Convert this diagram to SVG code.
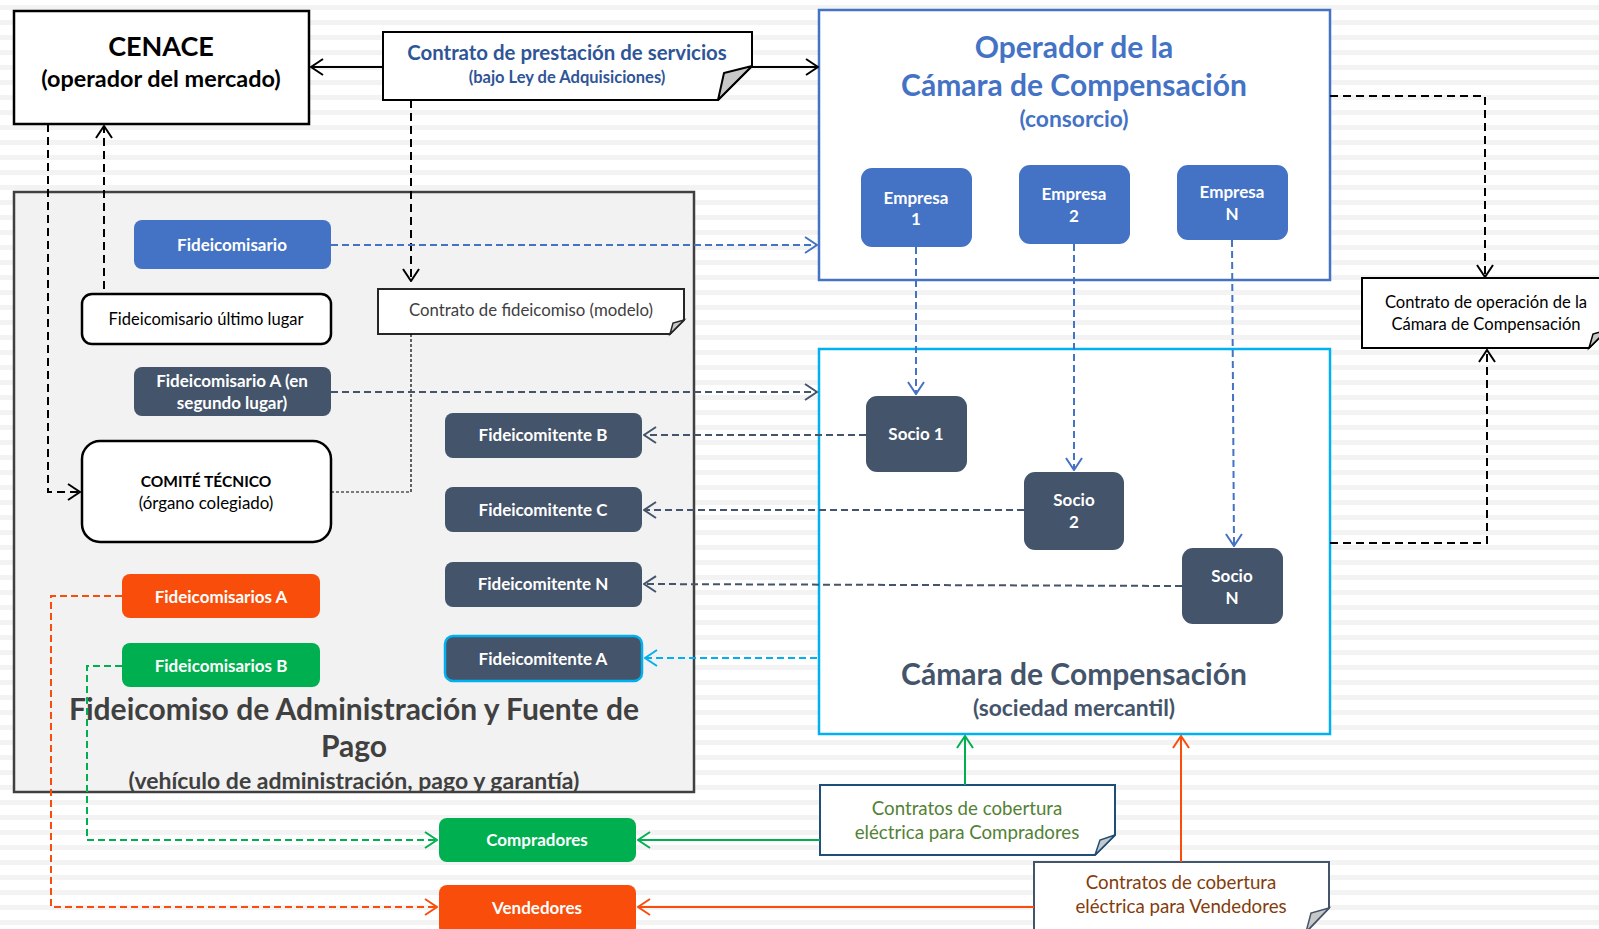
<svg xmlns="http://www.w3.org/2000/svg" width="1599" height="929" viewBox="0 0 1599 929">
<defs>
<pattern id="stripes" width="16" height="15" patternUnits="userSpaceOnUse">
<rect width="16" height="15" fill="#ffffff"/>
<rect y="5" width="16" height="5" fill="#f3f3f3"/>
</pattern>
<marker id="aK" markerWidth="14" markerHeight="18" refX="13" refY="9" orient="auto" markerUnits="userSpaceOnUse"><path d="M1,1 L13,9 L1,17" fill="none" stroke="#000" stroke-width="2"/></marker>
<marker id="aB" markerWidth="14" markerHeight="18" refX="13" refY="9" orient="auto" markerUnits="userSpaceOnUse"><path d="M1,1 L13,9 L1,17" fill="none" stroke="#4472c4" stroke-width="2"/></marker>
<marker id="aS" markerWidth="14" markerHeight="18" refX="13" refY="9" orient="auto" markerUnits="userSpaceOnUse"><path d="M1,1 L13,9 L1,17" fill="none" stroke="#44546a" stroke-width="2"/></marker>
<marker id="aC" markerWidth="14" markerHeight="18" refX="13" refY="9" orient="auto" markerUnits="userSpaceOnUse"><path d="M1,1 L13,9 L1,17" fill="none" stroke="#00b0f0" stroke-width="2"/></marker>
<marker id="aG" markerWidth="14" markerHeight="18" refX="13" refY="9" orient="auto" markerUnits="userSpaceOnUse"><path d="M1,1 L13,9 L1,17" fill="none" stroke="#00b050" stroke-width="2"/></marker>
<marker id="aO" markerWidth="14" markerHeight="18" refX="13" refY="9" orient="auto" markerUnits="userSpaceOnUse"><path d="M1,1 L13,9 L1,17" fill="none" stroke="#f94e0b" stroke-width="2"/></marker>
</defs>
<style>
text{font-family:Lato,"Liberation Sans",sans-serif;text-anchor:middle}
.b{font-weight:bold}
.w{fill:#ffffff;font-weight:bold;font-size:17px}
.blue{fill:#4472c4}
.slate{fill:#44546a}
.orange{fill:#f94e0b}
.green{fill:#00b050}
.fold{fill:#c8c8c8}
.c{fill:none;stroke-width:2}
.dk{stroke:#000;stroke-dasharray:8 5}
.db{stroke:#4472c4;stroke-dasharray:7 4}
.ds{stroke:#44546a;stroke-dasharray:7 4}
.dc{stroke:#00b0f0;stroke-dasharray:7 4}
.dg{stroke:#00b050;stroke-dasharray:7 4}
.do{stroke:#f94e0b;stroke-dasharray:7 4}
</style>
<rect width="1599" height="929" fill="url(#stripes)"/>

<g id="fideicomiso">
<rect x="14" y="192" width="680" height="600" fill="#f2f2f2" stroke="#404040" stroke-width="2.5"/>
<text x="354" y="720" class="b" font-size="30" fill="#404040">Fideicomiso de Administración y Fuente de</text>
<text x="354" y="757" class="b" font-size="30" fill="#404040">Pago</text>
<text x="354" y="789" class="b" font-size="23" fill="#404040">(vehículo de administración, pago y garantía)</text>
</g>

<g id="cenace">
<rect x="14" y="11" width="295" height="113" fill="#fff" stroke="#000" stroke-width="2.5"/>
<text x="161" y="56" class="b" font-size="27" fill="#000">CENACE</text>
<text x="161" y="87" class="b" font-size="23.4" fill="#000">(operador del mercado)</text>
</g>

<g id="contrato-servicios">
<path d="M383,32 H752 V66 L718,100 H383 Z" fill="#fff" stroke="#000" stroke-width="2"/>
<path d="M752,66 L724,73 L718,100 Z" class="fold" stroke="#000" stroke-width="2" stroke-linejoin="round"/>
<text x="567" y="60" class="b" font-size="20.4" fill="#2f5597">Contrato de prestación de servicios</text>
<text x="567" y="83" class="b" font-size="16.5" fill="#2f5597">(bajo Ley de Adquisiciones)</text>
</g>

<g id="operador">
<rect x="819" y="10" width="511" height="270" fill="#fff" stroke="#4472c4" stroke-width="2.5"/>
<text x="1074" y="58" class="b" font-size="30" fill="#4472c4">Operador de la</text>
<text x="1074" y="96" class="b" font-size="30" fill="#4472c4">Cámara de Compensación</text>
<text x="1074" y="127" class="b" font-size="22.8" fill="#4472c4">(consorcio)</text>
</g>

<g id="empresa1"><rect x="861" y="168" width="111" height="79" rx="11" class="blue"/><text x="916" y="204" class="w">Empresa</text><text x="916" y="225" class="w">1</text></g>
<g id="empresa2"><rect x="1019" y="165" width="111" height="79" rx="11" class="blue"/><text x="1074" y="200" class="w">Empresa</text><text x="1074" y="222" class="w">2</text></g>
<g id="empresaN"><rect x="1177" y="165" width="111" height="75" rx="11" class="blue"/><text x="1232" y="198" class="w">Empresa</text><text x="1232" y="220" class="w">N</text></g>

<g id="camara">
<rect x="819" y="349" width="511" height="385" fill="#fff" stroke="#00b0f0" stroke-width="2.5"/>
<text x="1074" y="685" class="b" font-size="30" fill="#44546a">Cámara de Compensación</text>
<text x="1074" y="716" class="b" font-size="22.8" fill="#44546a">(sociedad mercantil)</text>
</g>

<g id="socio1"><rect x="866" y="396" width="101" height="76" rx="11" class="slate"/><text x="916" y="440" class="w">Socio 1</text></g>
<g id="socio2"><rect x="1024" y="472" width="100" height="78" rx="11" class="slate"/><text x="1074" y="506" class="w">Socio</text><text x="1074" y="528" class="w">2</text></g>
<g id="socioN"><rect x="1182" y="548" width="101" height="76" rx="11" class="slate"/><text x="1232" y="582" class="w">Socio</text><text x="1232" y="604" class="w">N</text></g>

<g id="contrato-operacion">
<path d="M1362,278 H1607 V330 L1589,348 H1362 Z" fill="#fff" stroke="#000" stroke-width="2"/>
<path d="M1607,330 L1593,334 L1589,348 Z" class="fold" stroke="#000" stroke-width="1.5"/>
<text x="1486" y="308" font-size="16.6" fill="#000">Contrato de operación de la</text>
<text x="1486" y="330" font-size="16.6" fill="#000">Cámara de Compensación</text>
</g>

<g id="fideicomisario"><rect x="134" y="220" width="197" height="49" rx="8" class="blue"/><text x="232" y="251" class="w">Fideicomisario</text></g>
<g id="fideicomisario-ultimo"><rect x="82" y="294" width="249" height="50" rx="10" fill="#fff" stroke="#000" stroke-width="2.5"/><text x="206" y="325" font-size="16.5" fill="#000">Fideicomisario último lugar</text></g>

<g id="contrato-fideicomiso">
<path d="M378,289 H684 V320 L670,334 H378 Z" fill="#fff" stroke="#262626" stroke-width="2"/>
<path d="M684,320 L673,323 L670,334 Z" class="fold" stroke="#262626" stroke-width="1.5"/>
<text x="531" y="316" font-size="16.8" fill="#404040">Contrato de fideicomiso (modelo)</text>
</g>

<g id="fideicomisarioA2"><rect x="134" y="367" width="197" height="49" rx="8" class="slate"/><text x="232" y="387" class="w">Fideicomisario A (en</text><text x="232" y="409" class="w">segundo lugar)</text></g>

<g id="comite"><rect x="82" y="441" width="249" height="101" rx="18" fill="#fff" stroke="#000" stroke-width="2.5"/><text x="206" y="487" class="b" font-size="15.5" fill="#000">COMITÉ TÉCNICO</text><text x="206" y="509" font-size="16.9" fill="#000">(órgano colegiado)</text></g>

<g id="fideicomitenteB"><rect x="445" y="413" width="197" height="45" rx="8" class="slate"/><text x="543" y="441" class="w">Fideicomitente B</text></g>
<g id="fideicomitenteC"><rect x="445" y="487" width="197" height="45" rx="8" class="slate"/><text x="543" y="516" class="w">Fideicomitente C</text></g>
<g id="fideicomitenteN"><rect x="445" y="562" width="197" height="45" rx="8" class="slate"/><text x="543" y="590" class="w">Fideicomitente N</text></g>
<g id="fideicomitenteA"><rect x="445" y="636" width="197" height="45" rx="8" class="slate" stroke="#00b0f0" stroke-width="2.5"/><text x="543" y="665" class="w">Fideicomitente A</text></g>

<g id="fideicomisariosA"><rect x="122" y="574" width="198" height="44" rx="8" class="orange"/><text x="221" y="603" class="w">Fideicomisarios A</text></g>
<g id="fideicomisariosB"><rect x="122" y="643" width="198" height="44" rx="8" class="green"/><text x="221" y="672" class="w">Fideicomisarios B</text></g>

<g id="compradores"><rect x="439" y="818" width="197" height="44" rx="8" class="green"/><text x="537" y="846" class="w">Compradores</text></g>
<g id="vendedores"><rect x="439" y="885" width="197" height="50" rx="8" class="orange"/><text x="537" y="914" class="w">Vendedores</text></g>

<g id="contratos-compradores">
<path d="M820,785 H1115 V835 L1095,855 H820 Z" fill="#fff" stroke="#1f4e79" stroke-width="2"/>
<path d="M1115,835 L1100,840 L1095,855 Z" class="fold" stroke="#1f4e79" stroke-width="1.5"/>
<text x="967" y="815" font-size="18.7" fill="#538135">Contratos de cobertura</text>
<text x="967" y="839" font-size="18.7" fill="#538135">eléctrica para Compradores</text>
</g>

<g id="contratos-vendedores">
<path d="M1034,862 H1329 V908 L1306,932 H1034 Z" fill="#fff" stroke="#44546a" stroke-width="2"/>
<path d="M1329,908 L1311,913 L1306,932 Z" class="fold" stroke="#44546a" stroke-width="1.5"/>
<text x="1181" y="889" font-size="18.7" fill="#843c0c">Contratos de cobertura</text>
<text x="1181" y="913" font-size="18.7" fill="#843c0c">eléctrica para Vendedores</text>
</g>

<g id="connectors">
<path d="M383,67 H311" class="c" stroke="#000" marker-end="url(#aK)"/>
<path d="M752,67 H818" class="c" stroke="#000" marker-end="url(#aK)"/>
<path d="M411,100 V281" class="c dk" marker-end="url(#aK)"/>
<path d="M48,124 V492 H80" class="c dk" marker-end="url(#aK)"/>
<path d="M104,289 V126" class="c dk" marker-end="url(#aK)"/>
<path d="M331,492 H411 V334" fill="none" stroke="#000" stroke-width="1.2" stroke-dasharray="3 2"/>
<path d="M1330,96 H1485 V277" class="c dk" marker-end="url(#aK)"/>
<path d="M1330,543 H1487 V350" class="c dk" marker-end="url(#aK)"/>
<path d="M331,245 H817" class="c db" marker-end="url(#aB)"/>
<path d="M331,392 H817" class="c ds" marker-end="url(#aS)"/>
<path d="M916,247 V394" class="c db" marker-end="url(#aB)"/>
<path d="M1074,244 V470" class="c db" marker-end="url(#aB)"/>
<path d="M1232,240 L1234,546" class="c db" marker-end="url(#aB)"/>
<path d="M866,435 H644" class="c ds" marker-end="url(#aS)"/>
<path d="M1024,510 H644" class="c ds" marker-end="url(#aS)"/>
<path d="M1182,586 L644,584" class="c ds" marker-end="url(#aS)"/>
<path d="M817,658 H645" class="c dc" marker-end="url(#aC)"/>
<path d="M122,596 H51 V907 H437" class="c do" marker-end="url(#aO)"/>
<path d="M122,666 H87 V840 H437" class="c dg" marker-end="url(#aG)"/>
<path d="M820,840 H638" class="c" stroke="#00b050" marker-end="url(#aG)"/>
<path d="M965,785 V736" class="c" stroke="#00b050" marker-end="url(#aG)"/>
<path d="M1034,907 H638" class="c" stroke="#f94e0b" marker-end="url(#aO)"/>
<path d="M1181,862 V736" class="c" stroke="#f94e0b" marker-end="url(#aO)"/>
</g>
</svg>
